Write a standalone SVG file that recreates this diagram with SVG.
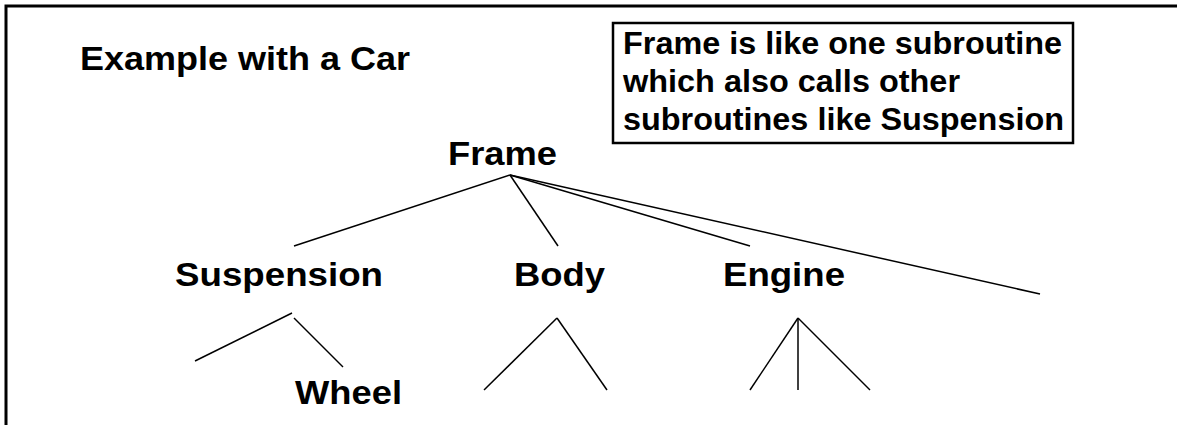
<svg xmlns="http://www.w3.org/2000/svg" width="1177" height="425" viewBox="0 0 1177 425">
<style>
.lbl{font-family:"Liberation Sans",Arial,sans-serif;font-weight:bold;font-size:33px;fill:#000}
.note{font-family:"Liberation Sans",Arial,sans-serif;font-weight:bold;font-size:31px;fill:#000}
.edge{stroke:#000;stroke-width:1.5;fill:none}
.border{stroke:#000;stroke-width:3;fill:none}
</style>
<rect width="1177" height="425" fill="#fff"/>
<g id="border">
<path class="border" d="M6,425 V6 H1177"/>
</g>
<g id="title">
<text class="lbl" x="80" y="70" textLength="330" lengthAdjust="spacingAndGlyphs">Example with a Car</text>
</g>
<g id="note">
<rect x="613" y="23" width="460" height="120" fill="none" stroke="#000" stroke-width="2.5"/>
<text class="note" x="623" y="54" textLength="439" lengthAdjust="spacingAndGlyphs">Frame is like one subroutine</text>
<text class="note" x="623" y="92" textLength="337" lengthAdjust="spacingAndGlyphs">which also calls other</text>
<text class="note" x="623" y="130" textLength="441" lengthAdjust="spacingAndGlyphs">subroutines like Suspension</text>
</g>
<g id="node-frame"><text class="lbl" x="448" y="165" textLength="109" lengthAdjust="spacingAndGlyphs">Frame</text></g>
<g id="node-suspension"><text class="lbl" x="175" y="286" textLength="208" lengthAdjust="spacingAndGlyphs">Suspension</text></g>
<g id="node-body"><text class="lbl" x="514" y="286" textLength="91" lengthAdjust="spacingAndGlyphs">Body</text></g>
<g id="node-engine"><text class="lbl" x="723" y="286" textLength="122" lengthAdjust="spacingAndGlyphs">Engine</text></g>
<g id="node-wheel"><text class="lbl" x="295" y="404" textLength="107" lengthAdjust="spacingAndGlyphs">Wheel</text></g>
<g id="connectors">
<line class="edge" x1="510" y1="175" x2="294" y2="246"/>
<line class="edge" x1="510" y1="175" x2="558" y2="246"/>
<line class="edge" x1="510" y1="175" x2="750" y2="246"/>
<line class="edge" x1="510" y1="175" x2="1040" y2="294"/>
<line class="edge" x1="292" y1="313" x2="195" y2="361"/>
<line class="edge" x1="294" y1="318" x2="343" y2="367"/>
<line class="edge" x1="557" y1="318" x2="484" y2="390"/>
<line class="edge" x1="557" y1="318" x2="607" y2="390"/>
<line class="edge" x1="798" y1="318" x2="750" y2="390"/>
<line class="edge" x1="798" y1="318" x2="798" y2="390"/>
<line class="edge" x1="798" y1="318" x2="870" y2="390"/>
</g>
</svg>
